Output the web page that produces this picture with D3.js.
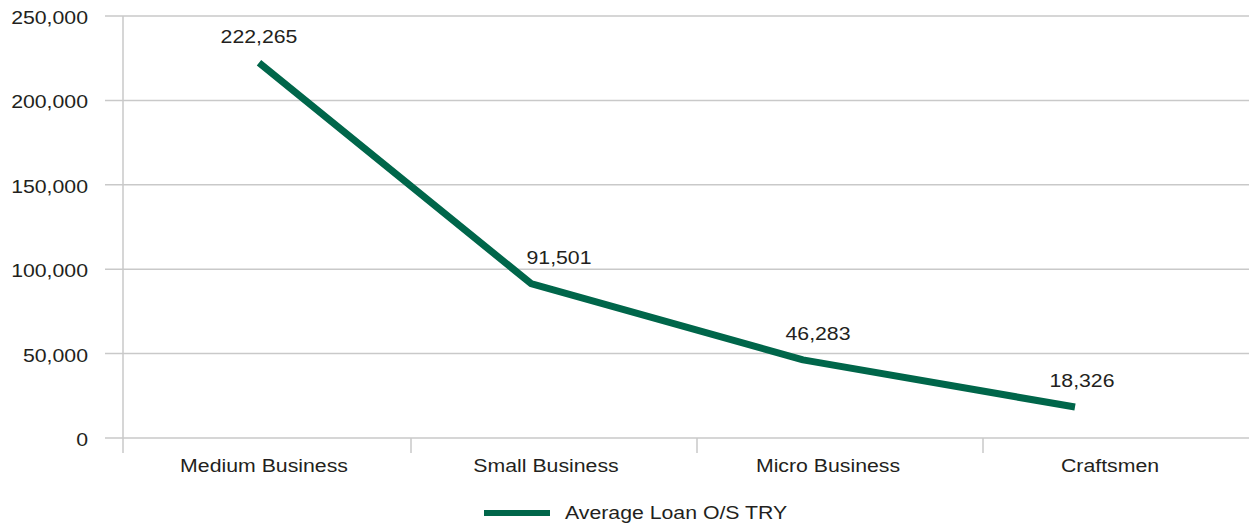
<!DOCTYPE html>
<html>
<head>
<meta charset="utf-8">
<script src="https://cdn.jsdelivr.net/npm/d3@7/dist/d3.min.js"></script>
<style>
  html, body { margin: 0; padding: 0; background: #fff; }
  svg { display: block; font-family: "Liberation Sans", Arial, sans-serif; }
</style>
</head>
<body>
<div id="chart"></div>
<script>
const categories = ["Medium Business", "Small Business", "Micro Business", "Craftsmen"];
const loanValues = [222265, 91501, 46283, 18326];
const yTicks = [0, 50000, 100000, 150000, 200000, 250000];
const seriesName = "Average Loan O/S TRY";

const W = 1249, H = 527;
const green = "#00664a";
const gridColor = "#c9c9c9";
const textColor = "#231f20";
const fontSize = 18.5;
const stretch = 1.15; // text in the picture is a bit wider than tall
// label nudges as placed in the original
const labelDx = [0, 28, 15, 7];

const svg = d3.select("#chart").append("svg")
  .attr("width", W)
  .attr("height", H);

const y = d3.scaleLinear().domain([0, 250000]).range([438, 16]);
// axis bands (labels sit in these)
const x = d3.scaleBand().domain(categories).range([123, 123 + 4 * 282]);
// line points
const xLine = d3.scalePoint().domain(categories).range([259, 1075]);

function putText(sel, px, py, anchor) {
  return sel.append("text")
    .attr("transform", "translate(" + px + "," + py + ") scale(" + stretch + ",1)")
    .attr("text-anchor", anchor)
    .attr("font-size", fontSize)
    .attr("fill", textColor);
}

// gridlines
svg.append("g")
  .selectAll("line")
  .data(yTicks)
  .enter()
  .append("line")
  .attr("x1", 105)
  .attr("x2", W)
  .attr("y1", (d) => y(d))
  .attr("y2", (d) => y(d))
  .attr("stroke", gridColor)
  .attr("stroke-width", 1.5);

// y axis line
svg.append("line")
  .attr("x1", 123).attr("x2", 123)
  .attr("y1", y(250000)).attr("y2", 453)
  .attr("stroke", gridColor)
  .attr("stroke-width", 1.5);

// category tick marks at band edges
const tickG = svg.append("g");
const tickPos = [411, 697, 983];
tickPos.forEach((t) => {
  tickG.append("line")
    .attr("x1", t).attr("x2", t)
    .attr("y1", y(0)).attr("y2", 453)
    .attr("stroke", gridColor)
    .attr("stroke-width", 1.5);
});

// y tick labels
const fmt = d3.format(",");
const yLab = svg.append("g");
yTicks.forEach((t) => {
  putText(yLab, 88, y(t) + 8, "end").text(fmt(t));
});

// category labels
const xLab = svg.append("g");
categories.forEach((c) => {
  putText(xLab, x(c) + x.bandwidth() / 2, 472, "middle").text(c);
});

// the line
const line = d3.line()
  .x((d, i) => xLine(categories[i]))
  .y((d) => y(d));

svg.append("path")
  .datum(loanValues)
  .attr("d", line)
  .attr("fill", "none")
  .attr("stroke", green)
  .attr("stroke-width", 7)
  .attr("stroke-linejoin", "round");

// data labels
const dLab = svg.append("g");
loanValues.forEach((v, i) => {
  putText(dLab, xLine(categories[i]) + labelDx[i], y(v) - 20, "middle").text(fmt(v));
});

// legend
svg.append("line")
  .attr("x1", 484).attr("x2", 550)
  .attr("y1", 513).attr("y2", 513)
  .attr("stroke", green)
  .attr("stroke-width", 6);
putText(svg, 565, 519, "start").text(seriesName);
</script>
</body>
</html>
